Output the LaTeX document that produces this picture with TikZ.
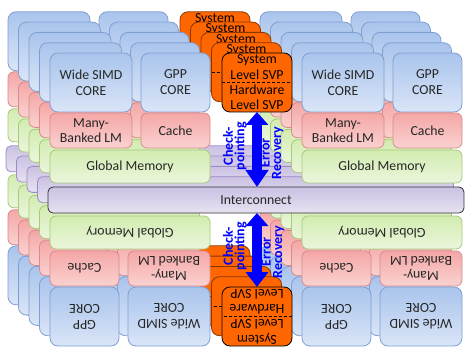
\documentclass[tikz,border=0pt]{standalone}
\usepackage{fontspec}
\setmainfont{Carlito}
\usetikzlibrary{arrows.meta}

\definecolor{blueT}{HTML}{A9C4EC}
\definecolor{blueB}{HTML}{DAE5F7}
\definecolor{blueE}{HTML}{7F9FD3}
\definecolor{redT}{HTML}{F4A7A6}
\definecolor{redB}{HTML}{FAD2D1}
\definecolor{redE}{HTML}{D88B8A}
\definecolor{grnT}{HTML}{D2ECB0}
\definecolor{grnB}{HTML}{EBF6DC}
\definecolor{grnE}{HTML}{A9C97E}
\definecolor{purT}{HTML}{CBC1E3}
\definecolor{purB}{HTML}{E7E2F2}
\definecolor{purE}{HTML}{9D8CC4}
\definecolor{svpfill}{HTML}{FF6600}
\definecolor{svpedge}{HTML}{8A3600}
\definecolor{ink}{HTML}{262626}
\definecolor{flow}{HTML}{0000FF}

\tikzset{
  card/.style={draw, line width=0.8pt, inner sep=0pt, outer sep=0pt, align=center,
    text=ink, font=\fontsize{13.8}{15.5}\selectfont},
  corebox/.style={card, rounded corners=8pt, draw=blueE, top color=blueT, bottom color=blueB,
    font=\fontsize{13.8}{16}\selectfont},
  membox/.style={card, rounded corners=6pt, draw=redE, top color=redT, bottom color=redB},
  gmbox/.style={card, rounded corners=6pt, draw=grnE, top color=grnT, bottom color=grnB,
    minimum width=160pt, minimum height=33pt},
  icback/.style={card, rounded corners=5pt, draw=purE, top color=purT, bottom color=purB,
    minimum width=416pt, minimum height=26pt},
  icfront/.style={icback, draw=black!80},
  svpback/.style={card, rounded corners=8pt, draw=svpedge, fill=svpfill, text=black,
    minimum width=70pt, minimum height=59pt, font=\fontsize{13.8}{15.3}\selectfont},
  svpfront/.style={svpback, draw=black},
  svptitle/.style={inner sep=0pt, text=black, font=\fontsize{13.8}{15.3}\selectfont},
  svpcut/.style={draw=black, line width=0.8pt, dash pattern=on 3pt off 2pt},
  flowarrow/.style={draw=flow, line width=10pt},
  flowlabel/.style={inner sep=0pt, align=center, text=flow,
    font=\bfseries\fontsize{14}{11.5}\selectfont},
}

% front processing tile: two cores, their local memories and the global memory
\newcommand\procunit[2]{%
  \node[corebox, minimum width=82pt, minimum height=59pt] (#2simd0) at (#1+41,82.5) {Wide SIMD\\CORE};
  \node[corebox, minimum width=69pt, minimum height=59pt] (#2gpp0) at (#1+125.5,82.5) {GPP\\CORE};
  \node[membox, minimum width=82pt, minimum height=35pt] (#2lm0) at (#1+41,130.5) {Many-\\Banked LM};
  \node[membox, minimum width=69pt, minimum height=35pt] (#2cache0) at (#1+125.5,130.5) {Cache};
  \node[gmbox] (#2gm0) at (#1+80,166.5) {Global Memory};
}

% the same tile further back in the stack, only its outline shows
\newcommand\procshell[3]{%
  \node[corebox, minimum width=82pt, minimum height=59pt] (#2simd#3) at (#1+41,82.5) {};
  \node[corebox, minimum width=69pt, minimum height=59pt] (#2gpp#3) at (#1+125.5,82.5) {};
  \node[membox, minimum width=82pt, minimum height=35pt] (#2lm#3) at (#1+41,130.5) {};
  \node[membox, minimum width=69pt, minimum height=35pt] (#2cache#3) at (#1+125.5,130.5) {};
  \node[gmbox] (#2gm#3) at (#1+80,166.5) {};
}

% the SVP block with its dashed split
\newcommand\svpunit[1]{%
  \node[svpfront] (#1svp0) at (257,82.5) {System\\Level SVP\\Hardware\\Level SVP};
  \draw[svpcut] (#1svp0.west) -- (#1svp0.east);
}
\newcommand\svpshell[2]{%
  \node[svpback] (#1svp#2) at (257,82.5) {};
  \draw[svpcut] (#1svp#2.west) -- (#1svp#2.east);
}

\begin{document}
\begin{tikzpicture}[x=1pt,y=-1pt]
\useasboundingbox (0,0) rectangle (465,347);

% lower half: stacked layers, each tile turned upside down
\foreach \k in {4,3,2,1}{
  \begin{scope}[shift={(-10.5*\k,-10.3*\k)}]
    \begin{scope}[rotate around={180:(130,199.5)}, transform shape]
      \procshell{50}{BL}{\k}
    \end{scope}
    \begin{scope}[rotate around={180:(257,199.5)}, transform shape]
      \svpshell{B}{\k}
    \end{scope}
    \begin{scope}[rotate around={180:(382,199.5)}, transform shape]
      \procshell{302}{BR}{\k}
    \end{scope}
  \end{scope}
}
\begin{scope}[rotate around={180:(130,199.5)}, transform shape]
  \procunit{50}{BL}
\end{scope}
\begin{scope}[rotate around={180:(257,199.5)}, transform shape]
  \svpunit{B}
\end{scope}
\begin{scope}[rotate around={180:(382,199.5)}, transform shape]
  \procunit{302}{BR}
\end{scope}

% upper half: stacked layers with the interconnect
\foreach \k in {4,3,2,1}{
  \begin{scope}[shift={(-10.5*\k,-10.3*\k)}]
    \procshell{50}{TL}{\k}
    \svpshell{T}{\k}
    \node[svptitle] (Tsys\k) at (257,60.5) {System};
    \procshell{302}{TR}{\k}
    \node[icback] (ic\k) at (256,200) {};
  \end{scope}
}
\procunit{50}{TL}
\svpunit{T}
\procunit{302}{TR}
\node[icfront] (ic0) at (256,200) {Interconnect};

% checkpointing / recovery arrows
\draw[flowarrow, {Triangle[width=22pt,length=13pt]}-{Triangle[width=22pt,length=17pt]}]
  (Tsvp0.south) -- (Tsvp0.south |- ic0.north);
\draw[flowarrow, {Triangle[width=22pt,length=13pt]}-{Triangle[width=22pt,length=15pt]}]
  (Bsvp0.south |- ic0.south) -- (Bsvp0.south);

\node[flowlabel, rotate=90] (cpT) at (235,146) {Check-\\pointing};
\node[flowlabel, rotate=90] (erT) at (272,153) {Error\\Recovery};
\node[flowlabel, rotate=90] (cpB) at (235,246) {Check-\\pointing};
\node[flowlabel, rotate=90] (erB) at (273,252) {Error\\Recovery};
\end{tikzpicture}
\end{document}
